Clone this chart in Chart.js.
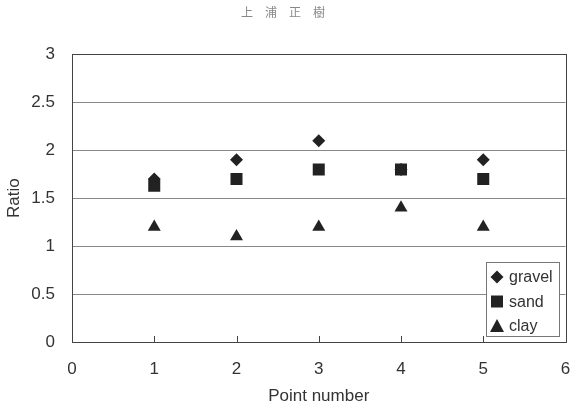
<!DOCTYPE html>
<html><head><meta charset="utf-8">
<style>html,body{margin:0;padding:0;background:#fff}#wrap{width:574px;height:407px;position:relative}</style>
<script src="https://cdn.jsdelivr.net/npm/chart.js@4/dist/chart.umd.min.js"></script>
</head><body><div id="wrap"><canvas id="c" width="574" height="407"></canvas></div>
<script>
const pointNumbers = [1, 2, 3, 4, 5];
const gravel = [1.7, 1.9, 2.1, 1.8, 1.9];
const sand = [1.63, 1.7, 1.8, 1.8, 1.7];
const clay = [1.2, 1.1, 1.2, 1.4, 1.2];
const xTickLabels = ['0', '1', '2', '3', '4', '5', '6'];
const yTickLabels = ['0', '0.5', '1', '1.5', '2', '2.5', '3'];
const FONT = "'Liberation Sans', Arial, sans-serif";
const INK = '#222';
const TXT = '#333';

function pts(ys) { return pointNumbers.map((x, i) => ({x: x, y: ys[i]})); }

const frame = {
  id: 'frame',
  afterDraw(chart) {
    const ctx = chart.ctx, a = chart.chartArea, xs = chart.scales.x;
    ctx.save();
    ctx.strokeStyle = '#444'; ctx.lineWidth = 1;
    ctx.strokeRect(Math.round(a.left) + 0.5, Math.round(a.top) + 0.5, Math.round(a.right - a.left), Math.round(a.bottom - a.top));
    for (let v = 1; v < xTickLabels.length - 1; v++) {
      const px = Math.round(xs.getPixelForValue(v)) + 0.5;
      ctx.beginPath(); ctx.moveTo(px, a.bottom); ctx.lineTo(px, a.bottom - 6); ctx.stroke();
    }
    // legend box
    const bx = 486, by = 262, bw = 73, bh = 74;
    ctx.fillStyle = '#fff';
    ctx.fillRect(bx, by, bw, bh);
    ctx.strokeStyle = '#777';
    ctx.strokeRect(bx + 0.5, by + 0.5, bw, bh);
    ctx.font = '16px ' + FONT;
    ctx.textBaseline = 'middle'; ctx.textAlign = 'left';
    chart.data.datasets.forEach((ds, i) => {
      const cy = by + 15 + i * 24.5, cx = bx + 11;
      ctx.fillStyle = INK;
      ctx.beginPath();
      if (ds.pointStyle === 'rectRot') {
        const r = 6.5; ctx.moveTo(cx - r, cy); ctx.lineTo(cx, cy - r); ctx.lineTo(cx + r, cy); ctx.lineTo(cx, cy + r);
      } else if (ds.pointStyle === 'rect') {
        ctx.rect(cx - 6, cy - 6, 12, 12);
      } else {
        ctx.moveTo(cx - 7, cy + 6); ctx.lineTo(cx, cy - 7); ctx.lineTo(cx + 7, cy + 6);
      }
      ctx.closePath(); ctx.fill();
      ctx.fillStyle = TXT;
      ctx.fillText(ds.label, cx + 12, cy + 1);
    });
    ctx.restore();
  }
};

new Chart(document.getElementById('c'), {
  type: 'scatter',
  data: {
    datasets: [
      {label: 'gravel', data: pts(gravel), pointStyle: 'rectRot', pointRadius: 6.5, backgroundColor: INK, borderColor: INK, borderWidth: 0},
      {label: 'sand', data: pts(sand), pointStyle: 'rect', pointRadius: 8.5, backgroundColor: INK, borderColor: INK, borderWidth: 0},
      {label: 'clay', data: pts(clay), pointStyle: 'triangle', pointRadius: 7.5, backgroundColor: INK, borderColor: INK, borderWidth: 0}
    ]
  },
  options: {
    responsive: false, animation: false,
    layout: {padding: {top: 0, right: 8, left: 0, bottom: 0}},
    plugins: {
      legend: {display: false},
      tooltip: {enabled: false},
      title: {display: true, text: '上　浦　正　樹', color: '#888', font: {family: "'Noto Sans CJK JP'", size: 12, weight: 'normal'}, padding: {top: 5, bottom: 35}}
    },
    scales: {
      x: {
        type: 'linear', min: 0, max: 6,
        grid: {display: false, drawTicks: false},
        border: {display: false},
        ticks: {stepSize: 1, padding: 17, color: TXT, font: {family: FONT, size: 17}, callback: (v) => xTickLabels[v]},
        title: {display: true, text: 'Point number', color: TXT, font: {family: FONT, size: 17}, padding: {top: 0, bottom: 0}},
        afterFit(s) { s.height = 65; s.paddingLeft = 0; s.paddingRight = 0; }
      },
      y: {
        min: 0, max: 3,
        grid: {color: '#888', lineWidth: 1, drawTicks: false},
        border: {display: false},
        ticks: {stepSize: 0.5, padding: 17, color: TXT, font: {family: FONT, size: 17}, callback: (v) => yTickLabels[Math.round(v * 2)]},
        title: {display: true, text: 'Ratio', color: TXT, font: {family: FONT, size: 17}, padding: {top: 4, bottom: 0}},
        afterFit(s) { s.width = 72; }
      }
    }
  },
  plugins: [frame]
});
</script></body></html>
